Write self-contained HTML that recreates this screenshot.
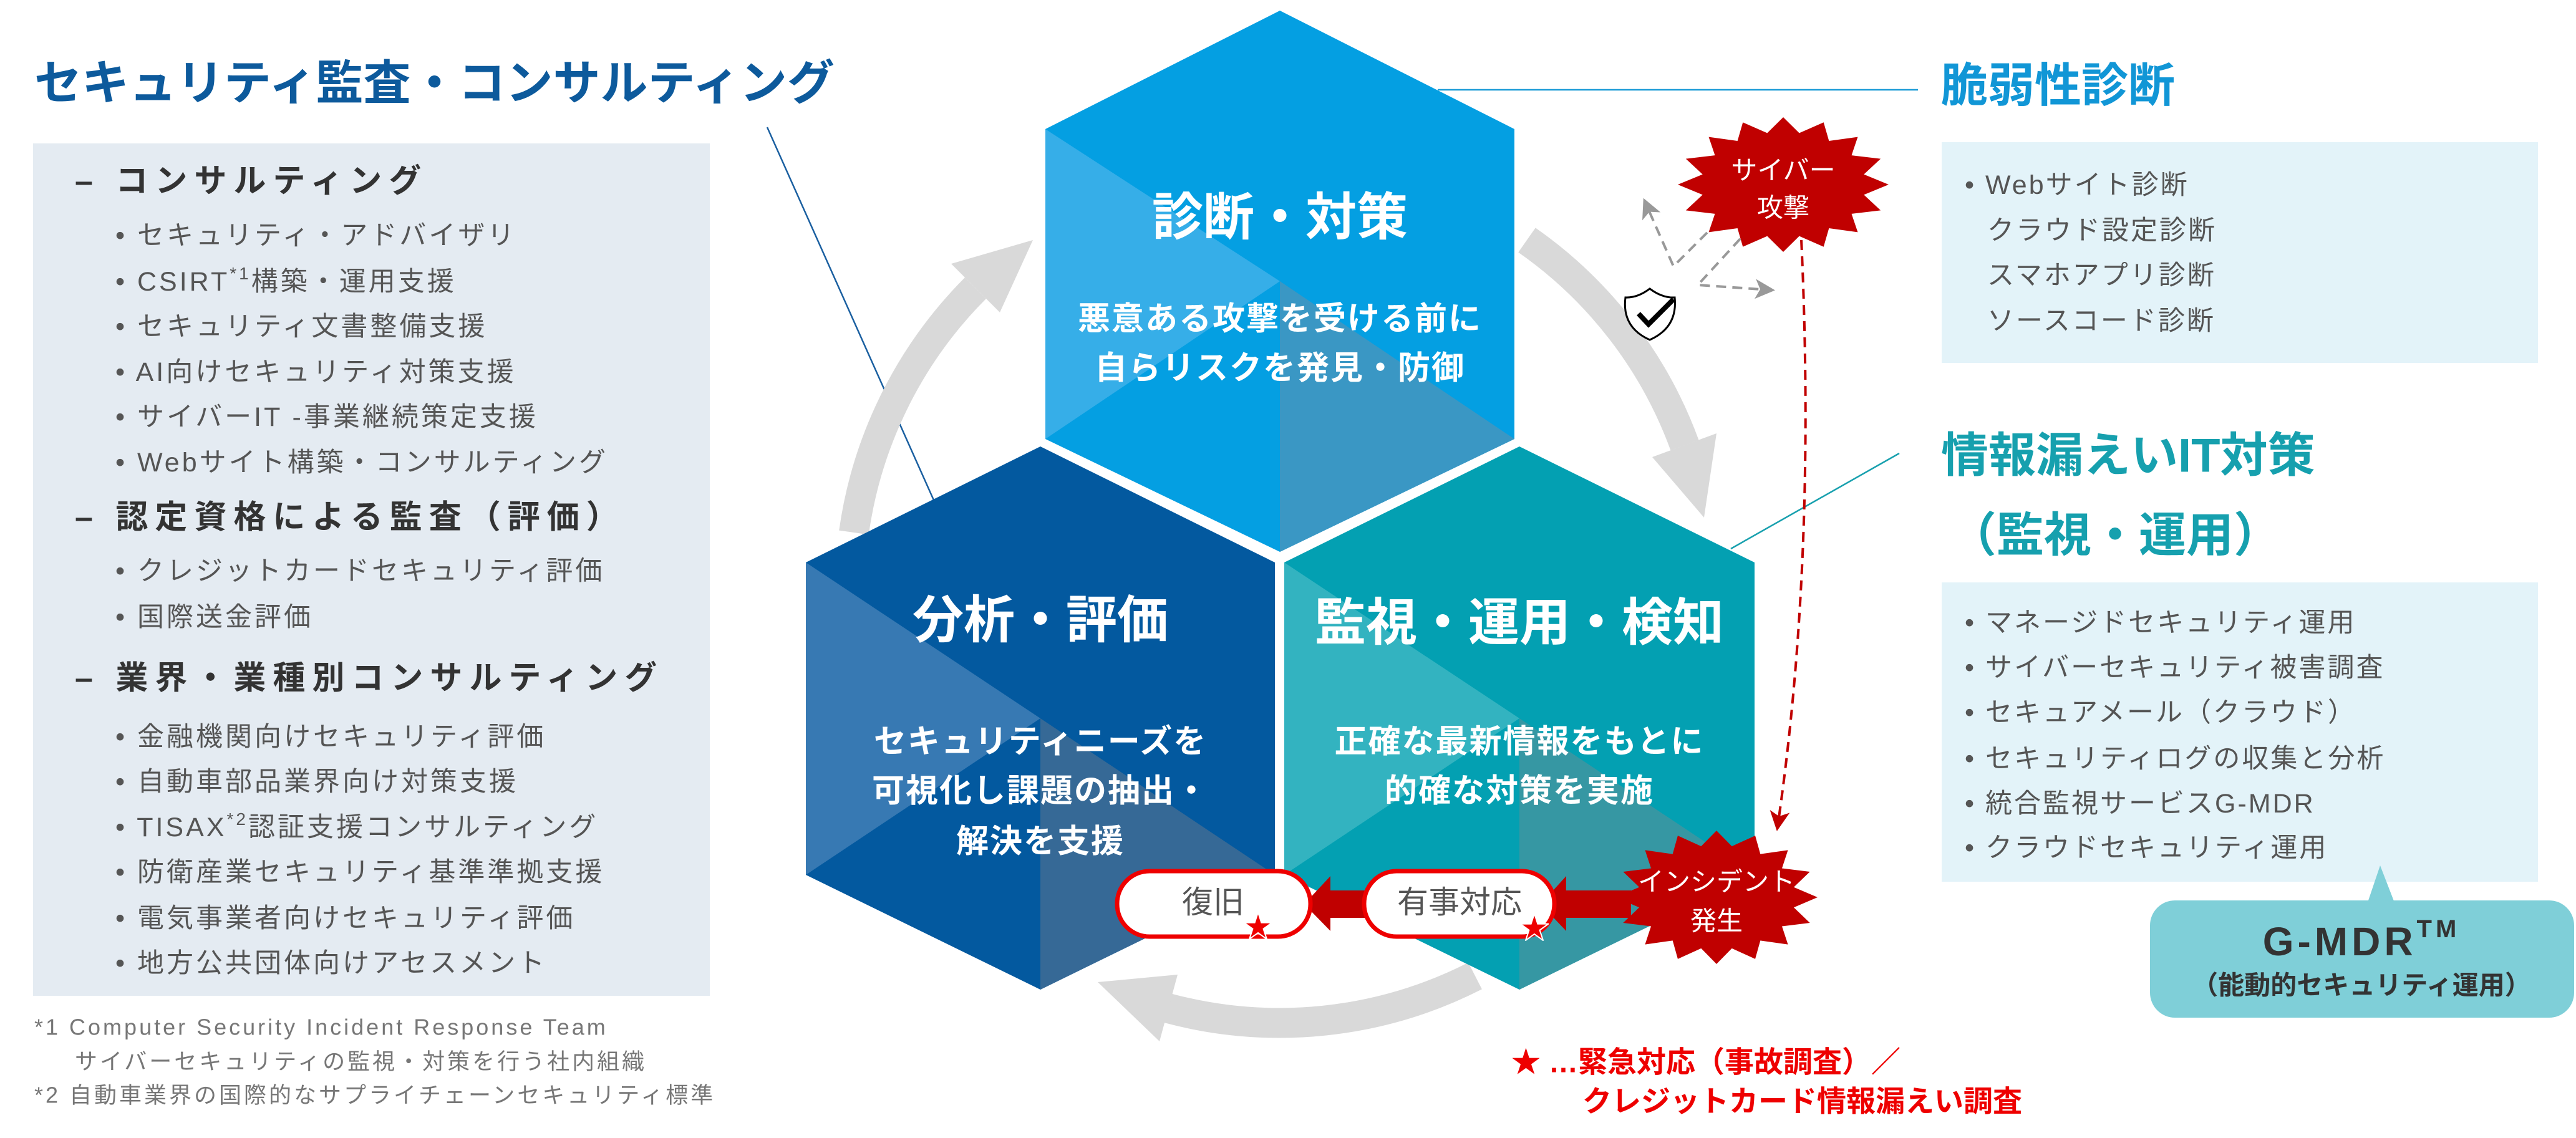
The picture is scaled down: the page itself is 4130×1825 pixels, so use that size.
<!DOCTYPE html>
<html><head><meta charset="utf-8">
<style>
html,body{margin:0;padding:0;background:#fff;}
body{width:4130px;height:1825px;position:relative;overflow:hidden;font-family:"Liberation Sans","Noto Sans CJK JP",sans-serif;}
svg{position:absolute;left:0;top:0;}
</style></head>
<body>
<svg width="4130" height="1825" viewBox="0 0 4130 1825" xmlns="http://www.w3.org/2000/svg" font-family="Liberation Sans, Noto Sans CJK JP, sans-serif">
<defs>
<marker id="ga" markerWidth="8" markerHeight="8" refX="6" refY="4" orient="auto" markerUnits="strokeWidth"><path d="M0,0 L8,4 L0,8 L2,4 z" fill="#999"/></marker>
<marker id="ra" markerWidth="8" markerHeight="8" refX="6" refY="4" orient="auto" markerUnits="strokeWidth"><path d="M0,0 L8,4 L0,8 L2,4 z" fill="#c00000"/></marker>
<polygon id="burst" points="100,0 76.5,15.2 92.4,38.3 64.8,43.4 70.7,70.7 43.4,64.8 38.3,92.4 15.2,76.5 0,100 -15.2,76.5 -38.3,92.4 -43.4,64.8 -70.7,70.7 -64.8,43.4 -92.4,38.3 -76.5,15.2 -100,0 -76.5,-15.2 -92.4,-38.3 -64.8,-43.4 -70.7,-70.7 -43.4,-64.8 -38.3,-92.4 -15.2,-76.5 0,-100 15.2,-76.5 38.3,-92.4 43.4,-64.8 70.7,-70.7 64.8,-43.4 92.4,-38.3 76.5,-15.2"/>
</defs>

<rect x="53" y="230" width="1085" height="1367" fill="#e4ebf2"/>
<rect x="3113" y="228" width="956" height="354" fill="#e3f3f9"/>
<rect x="3113" y="934" width="956" height="480" fill="#e3f3f9"/>

<line x1="1230" y1="204" x2="1497" y2="802" stroke="#1a5fa0" stroke-width="2.5"/>
<line x1="2305" y1="144" x2="3075" y2="144" stroke="#1a9ad6" stroke-width="2.5"/>
<line x1="3045" y1="727" x2="2775" y2="880" stroke="#17a0ae" stroke-width="2.5"/>

<g fill="none" stroke="#d9d9d9" stroke-width="48">
<path d="M1369,854 A690,690 0 0 1 1564,462"/>
<path d="M2448,385 A690,690 0 0 1 2701,714"/>
<path d="M2365,1565 A690,690 0 0 1 1873,1617"/>
</g>
<g fill="#d9d9d9">
<polygon points="1603,501 1525,423 1656,385"/>
<polygon points="2649,733 2752,695 2732,830"/>
<polygon points="1888,1563 1859,1670 1760,1575"/>
</g>

<polygon points="2052,17 2428,207 2428,704 2052,885 1676,704 1676,207" fill="#049fe2"/>
<polygon points="1676,207 2052,451 1676,704" fill="#36aee8"/>
<polygon points="2052,451 2428,704 2052,885" fill="#3a97c4"/>

<polygon points="1668,716 2044,902 2044,1403 1668,1587 1292,1403 1292,902" fill="#03599f"/>
<polygon points="1292,902 1668,1152 1292,1403" fill="#3779b3"/>
<polygon points="1668,1152 2044,1403 1668,1587" fill="#366996"/>

<polygon points="2436,716 2813,902 2813,1403 2436,1587 2059,1403 2059,902" fill="#03a0b2"/>
<polygon points="2059,902 2436,1152 2059,1403" fill="#33b3c0"/>
<polygon points="2436,1152 2813,1403 2436,1587" fill="#3697a3"/>

<g fill="#fff" font-weight="bold" text-anchor="middle" dominant-baseline="central">
<text x="2052" y="349" font-size="82">診断・対策</text>
<text x="2052" y="512" font-size="52" letter-spacing="2">悪意ある攻撃を受ける前に</text>
<text x="2052" y="591" font-size="52" letter-spacing="2">自らリスクを発見・防御</text>
<text x="1668" y="995" font-size="82">分析・評価</text>
<text x="1668" y="1190" font-size="52" letter-spacing="2">セキュリティニーズを</text>
<text x="1668" y="1269" font-size="52" letter-spacing="2">可視化し課題の抽出・</text>
<text x="1668" y="1350" font-size="52" letter-spacing="2">解決を支援</text>
<text x="2436" y="999" font-size="82">監視・運用・検知</text>
<text x="2436" y="1190" font-size="52" letter-spacing="2">正確な最新情報をもとに</text>
<text x="2436" y="1269" font-size="52" letter-spacing="2">的確な対策を実施</text>
</g>

<use href="#burst" transform="translate(2859,296) scale(1.69,1.08)" fill="#c00000"/>
<g fill="#fff" font-size="42" text-anchor="middle" dominant-baseline="central">
<text x="2859" y="273">サイバー</text>
<text x="2859" y="333">攻撃</text>
</g>
<g fill="none" stroke="#999" stroke-width="4" stroke-dasharray="16,10">
<polyline points="2737,373 2683,427 2638,325" marker-end="url(#ga)"/>
<polyline points="2790,383 2722,457 2838,465" marker-end="url(#ga)"/>
</g>
<path d="M2645,463 Q2665,478 2685,477 Q2690,525 2645,545 Q2600,525 2606,477 Q2625,478 2645,463 z" fill="#fff" stroke="#000" stroke-width="3"/>
<polyline points="2627,503 2643,520 2683,480" fill="none" stroke="#000" stroke-width="8"/>
<path d="M2888,385 Q2912,900 2850,1325" fill="none" stroke="#c00000" stroke-width="4" stroke-dasharray="16,10" marker-end="url(#ra)"/>

<use href="#burst" transform="translate(2752,1439) scale(1.62,1.07)" fill="#c00000"/>
<g fill="#fff" font-size="42" text-anchor="middle" dominant-baseline="central">
<text x="2752" y="1414">インシデント</text>
<text x="2752" y="1477">発生</text>
</g>

<g fill="#c00000">
<rect x="2128" y="1428" width="65" height="44"/>
<polygon points="2133,1405 2091,1450 2133,1493"/>
<rect x="2505" y="1428" width="110" height="44"/>
<polygon points="2511,1405 2470,1450 2511,1493"/>
</g>
<rect x="1791" y="1397" width="310" height="105" rx="52" fill="#fff" stroke="#ee0000" stroke-width="7"/>
<rect x="2187" y="1397" width="305" height="105" rx="52" fill="#fff" stroke="#ee0000" stroke-width="7"/>
<g fill="#555" font-size="50" text-anchor="middle" dominant-baseline="central">
<text x="1945" y="1447">復旧</text>
<text x="2340" y="1447">有事対応</text>
</g>
<g fill="#ee0000" stroke="#fff" stroke-width="2" font-size="48" text-anchor="middle" dominant-baseline="central">
<text x="2017" y="1487">★</text>
<text x="2460" y="1489">★</text>
</g>

<g fill="#ee0000" font-weight="bold" font-size="47" dominant-baseline="central">
<text x="2423" y="1703">★ …緊急対応（事故調査）／</text>
<text x="2537" y="1766">クレジットカード情報漏えい調査</text>
</g>

<text x="55" y="134" font-size="76" font-weight="bold" fill="#0d5a9c" dominant-baseline="central">セキュリティ監査・コンサルティング</text>
<g fill="#333" font-weight="bold" font-size="52" dominant-baseline="central" letter-spacing="11">
<text x="120" y="291">– コンサルティング</text>
<text x="120" y="830">– 認定資格による監査（評価）</text>
<text x="120" y="1088">– 業界・業種別コンサルティング</text>
</g>
<g fill="#555" font-size="43" dominant-baseline="central" letter-spacing="4">
<text x="185" y="378">•  セキュリティ・アドバイザリ</text>
<text x="185" y="452">•  CSIRT<tspan font-size="28" dy="-14">*1</tspan><tspan dy="14">構築・運用支援</tspan></text>
<text x="185" y="524">•  セキュリティ文書整備支援</text>
<text x="185" y="597">•  AI向けセキュリティ対策支援</text>
<text x="185" y="669">•  サイバーIT -事業継続策定支援</text>
<text x="185" y="742">•  Webサイト構築・コンサルティング</text>
<text x="185" y="916">•  クレジットカードセキュリティ評価</text>
<text x="185" y="990">•  国際送金評価</text>
<text x="185" y="1182">•  金融機関向けセキュリティ評価</text>
<text x="185" y="1254">•  自動車部品業界向け対策支援</text>
<text x="185" y="1327">•  TISAX<tspan font-size="28" dy="-14">*2</tspan><tspan dy="14">認証支援コンサルティング</tspan></text>
<text x="185" y="1399">•  防衛産業セキュリティ基準準拠支援</text>
<text x="185" y="1473">•  電気事業者向けセキュリティ評価</text>
<text x="185" y="1545">•  地方公共団体向けアセスメント</text>
</g>
<g fill="#777" font-size="36" dominant-baseline="central" letter-spacing="4">
<text x="55" y="1647">*1 Computer Security Incident Response Team</text>
<text x="120" y="1702">サイバーセキュリティの監視・対策を行う社内組織</text>
<text x="55" y="1756">*2 自動車業界の国際的なサプライチェーンセキュリティ標準</text>
</g>

<text x="3112" y="137" font-size="75" font-weight="bold" fill="#1196d6" dominant-baseline="central">脆弱性診断</text>
<g fill="#555" font-size="43" dominant-baseline="central" letter-spacing="3">
<text x="3150" y="297">•  Webサイト診断</text>
<text x="3186" y="370">クラウド設定診断</text>
<text x="3186" y="442">スマホアプリ診断</text>
<text x="3186" y="515">ソースコード診断</text>
</g>
<g fill="#16a0ae" font-size="76" font-weight="bold" dominant-baseline="central">
<text x="3112" y="731">情報漏えいIT対策</text>
<text x="3125" y="859">（監視・運用）</text>
</g>
<g fill="#555" font-size="43" dominant-baseline="central" letter-spacing="3">
<text x="3150" y="999">•  マネージドセキュリティ運用</text>
<text x="3150" y="1071">•  サイバーセキュリティ被害調査</text>
<text x="3150" y="1143">•  セキュアメール（クラウド）</text>
<text x="3150" y="1217">•  セキュリティログの収集と分析</text>
<text x="3150" y="1289">•  統合監視サービスG-MDR</text>
<text x="3150" y="1360">•  クラウドセキュリティ運用</text>
</g>
<polygon points="3795,1450 3816,1388 3840,1450" fill="#7fcfd8"/>
<rect x="3447" y="1444" width="680" height="188" rx="40" fill="#7fcfd8"/>
<g fill="#333" font-weight="bold" text-anchor="middle" dominant-baseline="central">
<text x="3786" y="1510" font-size="64" letter-spacing="6">G-MDR<tspan font-size="40" dy="-20">TM</tspan></text>
<text x="3786" y="1580" font-size="42">（能動的セキュリティ運用）</text>
</g>
</svg>
</body></html>
